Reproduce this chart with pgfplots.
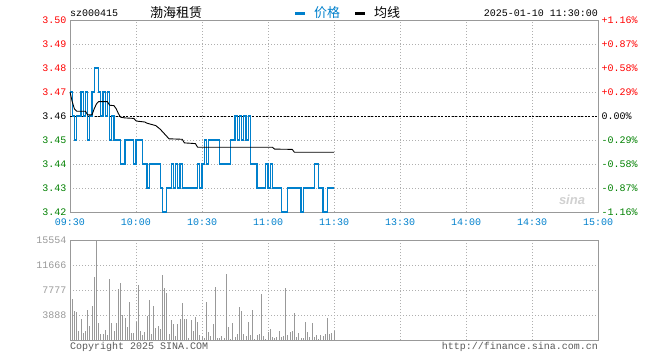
\documentclass[border=0pt]{standalone}
\usepackage{pgfplots}
\pgfplotsset{compat=1.18}
\usepackage{fontspec}
\setmainfont{Liberation Sans}
\newfontfamily\mono{Liberation Mono}
\newfontfamily\cjk{Noto Sans CJK SC}
\definecolor{sblue}{RGB}{0,128,204}
\definecolor{sred}{RGB}{255,0,0}
\definecolor{sgreen}{RGB}{0,128,0}
\definecolor{sgray}{RGB}{153,153,153}
\definecolor{sgrid}{RGB}{175,175,175}
\newcommand{\mf}{\fontsize{10}{12}\mono}
\begin{document}
\begin{tikzpicture}
\path[use as bounding box] (0,0) rectangle (660pt,-360pt);
% ---------- main price axis ----------
\begin{axis}[
  at={(70pt,-20pt)}, anchor=north west,
  width=528pt, height=192pt, scale only axis,
  xmin=0, xmax=240, ymin=3.42, ymax=3.50,
  xtick={0,30,60,90,120,150,180,210,240},
  xticklabels={09:30,10:00,10:30,11:00,11:30,13:30,14:00,14:30,15:00},
  xticklabel style={font=\mf, text=sblue, yshift=-3pt},
  ytick={3.42,3.43,3.44,3.45,3.46,3.47,3.48,3.49,3.50},
  yticklabels={\mbox{\textcolor{sgreen}{3.42}},\mbox{\textcolor{sgreen}{3.43}},\mbox{\textcolor{sgreen}{3.44}},\mbox{\textcolor{sgreen}{3.45}},\mbox{\textcolor{black}{3.46}},\mbox{\textcolor{sred}{3.47}},\mbox{\textcolor{sred}{3.48}},\mbox{\textcolor{sred}{3.49}},\mbox{\textcolor{sred}{3.50}}},
  yticklabel style={font=\mf},
  major tick length=0pt,
  grid=major,
  major grid style={sgrid, line width=0.8pt, dash pattern=on 1pt off 2pt},
  axis line style={sgray, line width=1pt},
  clip=false,
]
\addplot[black, line width=0.9pt, dash pattern=on 2pt off 1.5pt] coordinates {(0,3.46) (240,3.46)};
\addplot[const plot, sblue, line width=1.2pt] coordinates {
(0,3.47) (1,3.46) (2,3.45) (3,3.46) (4,3.46) (5,3.47) (6,3.46) (7,3.47) (8,3.45) (9,3.46)
(10,3.47) (11,3.48) (12,3.48) (13,3.47) (14,3.46) (15,3.47) (16,3.46) (17,3.47) (18,3.45) (19,3.46)
(20,3.45) (21,3.45) (22,3.45) (23,3.44) (24,3.44) (25,3.45) (26,3.45) (27,3.45) (28,3.45) (29,3.44)
(30,3.45) (31,3.45) (32,3.45) (33,3.44) (34,3.44) (35,3.43) (36,3.44) (37,3.44) (38,3.44) (39,3.44)
(40,3.44) (41,3.43) (42,3.42) (43,3.42) (44,3.43) (45,3.43) (46,3.44) (47,3.43) (48,3.44) (49,3.43)
(50,3.44) (51,3.43) (52,3.43) (53,3.43) (54,3.43) (55,3.43) (56,3.43) (57,3.43) (58,3.44) (59,3.43)
(60,3.44) (61,3.45) (62,3.44) (63,3.45) (64,3.45) (65,3.45) (66,3.45) (67,3.45) (68,3.44) (69,3.44)
(70,3.44) (71,3.44) (72,3.44) (73,3.45) (74,3.45) (75,3.46) (76,3.45) (77,3.46) (78,3.45) (79,3.46)
(80,3.45) (81,3.46) (82,3.44) (83,3.44) (84,3.44) (85,3.43) (86,3.43) (87,3.43) (88,3.43) (89,3.44)
(90,3.43) (91,3.44) (92,3.43) (93,3.43) (94,3.43) (95,3.43) (96,3.42) (97,3.42) (98,3.42) (99,3.43)
(100,3.43) (101,3.43) (102,3.43) (103,3.43) (104,3.43) (105,3.42) (106,3.43) (107,3.43) (108,3.43) (109,3.43)
(110,3.43) (111,3.44) (112,3.44) (113,3.43) (114,3.43) (115,3.42) (116,3.42) (117,3.43) (118,3.43) (119,3.43)
(120,3.43)
};
\addplot[black, line width=0.9pt] coordinates {
(0,3.470) (1,3.466) (2,3.463) (3,3.462) (7,3.462) (8,3.4605) (10,3.4605) (11,3.463) (12,3.465) (13,3.466)
(17,3.466) (18,3.4645) (20,3.4643) (21,3.463) (22,3.461) (23,3.4595) (25,3.4592) (29,3.4590) (30,3.458)
(31,3.4578) (34,3.4575) (35,3.457) (39,3.456) (41,3.4545) (43,3.4525) (45,3.4505) (51,3.4503) (52,3.4488)
(57,3.4485) (58,3.447) (92,3.447) (93,3.4462) (101,3.4461) (102,3.4449) (120,3.4449)
};
\end{axis}
% ---------- right percent labels ----------
\begin{axis}[
  at={(70pt,-20pt)}, anchor=north west,
  width=528pt, height=192pt, scale only axis,
  xmin=0, xmax=240, ymin=3.42, ymax=3.50,
  axis x line=none, axis y line*=right,
  ytick={3.42,3.43,3.44,3.45,3.46,3.47,3.48,3.49,3.50},
  yticklabels={\mbox{\textcolor{sgreen}{-1.16\%}},\mbox{\textcolor{sgreen}{-0.87\%}},\mbox{\textcolor{sgreen}{-0.58\%}},\mbox{\textcolor{sgreen}{-0.29\%}},\mbox{\textcolor{black}{0.00\%}},\mbox{\textcolor{sred}{+0.29\%}},\mbox{\textcolor{sred}{+0.58\%}},\mbox{\textcolor{sred}{+0.87\%}},\mbox{\textcolor{sred}{+1.16\%}}},
  yticklabel style={font=\mf},
  major tick length=0pt,
  axis line style={sgray, line width=1pt},
]
\addplot[draw=none] coordinates {(0,3.46)};
\end{axis}
% ---------- volume axis ----------
\begin{axis}[
  at={(70pt,-240pt)}, anchor=north west,
  width=528pt, height=100pt, scale only axis,
  xmin=0, xmax=240, ymin=0, ymax=15554,
  xtick={0,30,60,90,120,150,180,210,240}, xticklabels={},
  ytick={3888,7777,11666,15554},
  yticklabels={\mbox{3888},\mbox{7777},\mbox{11666},\mbox{15554}},
  yticklabel style={font=\mf, text=sgray},
  major tick length=0pt,
  grid=major,
  major grid style={sgrid, line width=0.8pt, dash pattern=on 1pt off 2pt},
  axis line style={sgray, line width=1pt},
  scaled y ticks=false,
]
\addplot[ycomb, sgray, line width=1pt] coordinates {
(0,1867) (1,6378) (2,4511) (3,4355) (4,1400) (5,3267) (6,1089) (7,1400) (8,4667) (9,2178)
(10,5289) (11,9800) (12,15554) (13,2644) (14,933) (15,933) (16,1556) (17,778) (18,9489) (19,2644)
(20,1400) (21,2644) (22,7933) (23,8866) (24,3889) (25,3422) (26,2022) (27,5911) (28,1089) (29,1089)
(30,2800) (31,8555) (32,1400) (33,778) (34,1244) (35,3733) (36,6222) (37,933) (38,5289) (39,1867)
(40,2178) (41,1711) (42,10111) (43,8089) (44,7311) (45,933) (46,3111) (47,2489) (48,622) (49,2489)
(50,3267) (51,5755) (52,3267) (53,3267) (54,311) (55,3111) (56,1400) (57,3578) (58,2800) (59,778)
(60,622) (61,311) (62,5911) (63,1244) (64,622) (65,2489) (66,8244) (67,311) (68,311) (69,622)
(70,311) (71,10266) (72,2022) (73,156) (74,2644) (75,467) (76,933) (77,5133) (78,4511) (79,933)
(80,622) (81,2800) (82,778) (83,4667) (84,156) (85,778) (86,933) (87,7155) (88,622) (89,156)
(90,1244) (91,1711) (92,467) (93,311) (94,467) (95,1400) (96,467) (97,622) (98,8089) (99,778)
(100,1244) (101,1400) (102,4200) (103,467) (104,1089) (105,311) (106,311) (107,2800) (108,1244) (109,467)
(110,2644) (111,467) (112,778) (113,156) (114,778) (115,622) (116,933) (117,3422) (118,933) (119,1089)
(120,1400)
};
\end{axis}
% ---------- header ----------
\node[anchor=west, inner sep=0pt] at (70pt,-13pt) {\mf sz000415};
\node[anchor=west, inner sep=0pt] at (150pt,-13pt) {\fontsize{13}{14}\cjk 渤海租赁};
\fill[sblue] (295pt,-11.5pt) rectangle (305pt,-14.5pt);
\node[anchor=west, inner sep=0pt, text=sblue] at (314pt,-13pt) {\fontsize{13}{14}\cjk 价格};
\fill[black] (355pt,-11.5pt) rectangle (365pt,-14.5pt);
\node[anchor=west, inner sep=0pt] at (374pt,-13pt) {\fontsize{13}{14}\cjk 均线};
\node[anchor=east, inner sep=0pt] at (598pt,-13pt) {\mf 2025-01-10 11:30:00};
% ---------- watermark ----------
\node[text=black!18, inner sep=0pt] at (572pt,-200pt) {\fontsize{13}{14}\bfseries\itshape sina};
% ---------- footer ----------
\node[anchor=west, inner sep=0pt, text=black!65] at (70pt,-347pt) {\mf Copyright 2025 SINA.COM};
\node[anchor=east, inner sep=0pt, text=black!65] at (598pt,-347pt) {\mf http://finance.sina.com.cn};
\end{tikzpicture}
\end{document}
